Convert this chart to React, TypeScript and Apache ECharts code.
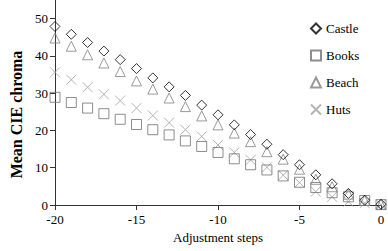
import React, { useEffect, useRef } from "react";
import * as echarts from "echarts";

const steps = [-20, -19, -18, -17, -16, -15, -14, -13, -12, -11, -10, -9, -8, -7, -6, -5, -4, -3, -2, -1, 0];
const castle = [47.9, 45.8, 43.6, 41.3, 39.0, 36.6, 34.1, 31.7, 29.4, 26.8, 24.2, 21.5, 18.9, 16.3, 13.5, 10.8, 8.1, 5.7, 3.1, 1.3, 0.2];
const books = [28.9, 27.5, 26.0, 24.5, 23.0, 21.6, 20.2, 18.8, 17.2, 15.7, 14.1, 12.4, 10.8, 9.4, 7.8, 6.1, 4.7, 3.3, 2.2, 1.2, 0.1];
const beach = [44.8, 42.6, 40.3, 38.1, 35.8, 33.3, 31.1, 28.7, 26.4, 23.9, 21.5, 19.3, 17.0, 14.3, 12.3, 9.6, 6.9, 4.9, 2.9, 1.2, 0.2];
const huts = [35.6, 33.6, 31.6, 29.7, 28.0, 26.0, 24.0, 22.1, 20.2, 18.4, 16.1, 14.1, 12.1, 10.1, 8.0, 6.0, 3.6, 2.2, 0.9, 0.5, 0.1];
const yTicks = [0, 10, 20, 30, 40, 50];
const xTicks = [-20, -15, -10, -5, 0];

const FONT = "'Liberation Serif', 'Times New Roman', serif";

export default function App() {
  const ref = useRef<HTMLDivElement>(null);
  useEffect(() => {
    if (!ref.current) return;
    const chart = echarts.init(ref.current, null, { renderer: "svg" });
    const pts = (ys: number[]) => steps.map((x, i) => [x, ys[i]]);
    const mk = (name: string, data: number[], symbol: string, color: string, size: number) => ({
      name,
      type: "scatter",
      data: pts(data),
      symbol,
      symbolSize: size,
      itemStyle: { color: "transparent", borderColor: color, borderWidth: 1 },
      emphasis: { disabled: true },
    });
    chart.setOption({
      animation: false,
      backgroundColor: "#fff",
      grid: { left: 43, right: 7, top: 0, bottom: 46 },
      legend: {
        orient: "vertical",
        left: 305,
        top: 17,
        itemWidth: 10,
        itemHeight: 10,
        itemGap: 14,
        textStyle: { fontFamily: FONT, fontSize: 13, color: "#000" },
        data: ["Castle", "Books", "Beach", "Huts"],
      },
      xAxis: {
        type: "value",
        min: -20,
        max: 0,
        interval: 5,
        name: "Adjustment steps",
        nameLocation: "middle",
        nameGap: 22,
        nameTextStyle: { fontFamily: FONT, fontSize: 13, color: "#000" },
        axisLine: { onZero: false, lineStyle: { color: "#333", width: 1 } },
        axisTick: { show: true, length: 5, inside: false, lineStyle: { color: "#333" }, customValues: xTicks },
        axisLabel: { fontFamily: FONT, fontSize: 13, color: "#000", margin: 8, customValues: xTicks },
        splitLine: { show: false },
      },
      yAxis: {
        type: "value",
        min: 0,
        max: 55,
        interval: 10,
        name: "Mean CIE chroma",
        nameLocation: "middle",
        nameGap: 31,
        nameTextStyle: { fontFamily: FONT, fontSize: 16, fontWeight: "bold", color: "#000", padding: [0, 24, 0, 0] },
        axisLine: { show: true, onZero: false, lineStyle: { color: "#333", width: 1 } },
        axisTick: { show: true, length: 5, inside: false, lineStyle: { color: "#333" }, customValues: yTicks },
        axisLabel: { fontFamily: FONT, fontSize: 13, color: "#000", margin: 7, customValues: yTicks },
        splitLine: { show: false },
      },
      series: [
        mk("Huts", huts, "path://M0,0L10,10M0,10L10,0", "#a0a0a0", 10),
        mk("Books", books, "rect", "#707070", 10),
        mk("Beach", beach, "triangle", "#808080", 10),
        mk("Castle", castle, "diamond", "#000000", 10),
      ],
    });
    return () => chart.dispose();
  }, []);
  return <div ref={ref} style={{ position: "fixed", left: 0, top: 0, width: 388, height: 251 }} />;
}
